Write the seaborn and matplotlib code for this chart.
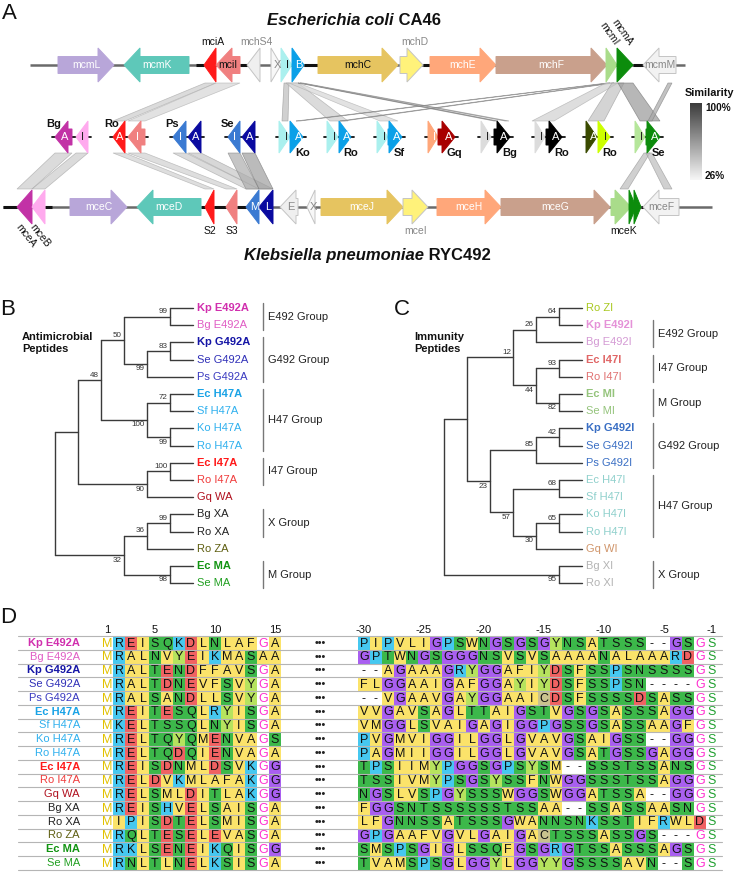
import numpy as np
import pandas as pd
import seaborn as sns
import matplotlib.pyplot as plt
import matplotlib.colors as mcolors
from matplotlib.patches import Polygon
from matplotlib.colors import ListedColormap, LinearSegmentedColormap

# ---------------- data ----------------
# panel A: gene clusters (track positions)
top_names = ['mcmL', 'mcmK', 'mciA', 'mciI', 'mchS4', 'X', 'I', 'B', 'mchC', 'mchD',
             'mchE', 'mchF', 'mcmI', 'mcmA', 'mcmM']
top_start = [58, 124, 204, 216, 247, 271, 281, 292, 318, 400, 430, 496, 606, 617, 643]
top_end = [114, 189, 216, 240, 260, 281, 292, 304, 398, 423, 496, 607, 617, 633, 676]
top_strand = [1, -1, -1, -1, -1, 1, 1, 1, 1, 1, 1, 1, 1, 1, -1]
top_colors = ['#b8a6d9', '#5ec8b9', '#ff1a1a', '#f08080', '#efefef', '#f7f7f7', '#aaf0ee',
              '#0aa0e8', '#e6c460', '#fff27a', '#ffa77a', '#c9a08c', '#a9dc8a', '#0c8c0c', '#f2f2f2']
top_label_mode = ['in', 'in', 'above', 'in', 'above', 'in', 'in', 'in', 'in', 'above',
                  'in', 'in', 'rot', 'rot', 'in']

bot_names = ['mceA', 'mceB', 'mceC', 'mceD', 'S2', 'S3', 'M', 'L', 'E', 'X', 'mceJ', 'mceI',
             'mceH', 'mceG', 'mceK', '', '', 'mceF']
bot_start = [17, 32, 70, 137, 205, 226, 246, 259, 280, 307, 321, 403, 437, 501, 611, 629, 634, 643]
bot_end = [32, 45, 127, 201, 214, 237, 259, 273, 298, 315, 403, 428, 501, 610, 631, 636, 641, 679]
bot_strand = [-1, -1, 1, -1, -1, -1, -1, -1, -1, -1, 1, 1, 1, 1, 1, 1, 1, -1]
bot_colors = ['#c232a6', '#ffaaee', '#b8a6d9', '#5ec8b9', '#ff1a1a', '#f08080', '#3a7ad2',
              '#0a0aa0', '#efefef', '#f7f7f7', '#e6c460', '#fff27a', '#ffa77a', '#c9a08c',
              '#a9dc8a', '#0c8c0c', '#0c8c0c', '#f2f2f2']
bot_label_mode = ['rot', 'rot', 'in', 'in', 'below', 'below', 'in', 'in', 'in', 'in', 'in',
                  'below', 'in', 'in', 'below', 'none', 'none', 'in']

mid_species = ['Bg', 'Ro', 'Ps', 'Se', 'Ko', 'Ro', 'Sf', 'Gq', 'Bg', 'Ro', 'Ro', 'Se']
mid_genes = [
    [(55, 72, -1, 'A'), (76, 88, -1, 'I')],
    [(113, 125, -1, 'A'), (128, 145, -1, 'I')],
    [(173, 186, -1, 'I'), (188, 201, -1, 'A')],
    [(228, 240, -1, 'I'), (242, 255, -1, 'A')],
    [(279, 290, 1, 'I'), (290, 303, 1, 'A')],
    [(327, 338, 1, 'I'), (339, 351, 1, 'A')],
    [(377, 388, 1, 'I'), (388, 402, 1, 'A')],
    [(428, 438, 1, 'I'), (438, 455, 1, 'A')],
    [(481, 491, 1, 'I'), (494, 510, 1, 'A')],
    [(535, 545, 1, 'I'), (546, 562, 1, 'A')],
    [(586, 597, 1, 'A'), (598, 610, 1, 'I')],
    [(635, 645, 1, 'I'), (646, 660, 1, 'A')],
]
mid_colors = [
    ['#c232a6', '#ffaaee'], ['#ff1a1a', '#f08080'], ['#3a7ad2', '#0a0aa0'],
    ['#3a7ad2', '#0a0aa0'], ['#aaf0ee', '#0aa0e8'], ['#aaf0ee', '#0aa0e8'],
    ['#aaf0ee', '#0aa0e8'], ['#ffa77a', '#a80000'], ['#dcdcdc', '#000000'],
    ['#dcdcdc', '#000000'], ['#3a4a00', '#ccff00'], ['#b5e69a', '#0c8c0c'],
]

# similarity links: (upper x0, upper x1, lower x0, lower x1, grey level)
upper_links = [
    (205, 216, 113, 125, 0.80), (216, 240, 128, 145, 0.84), (284, 289, 282, 288, 0.74),
    (286, 298, 330, 348, 0.80), (289, 298, 380, 398, 0.84), (298, 301, 494, 498, 0.62),
    (300, 303, 505, 509, 0.70), (607, 610, 296, 300, 0.66), (611, 614, 340, 344, 0.66),
    (606, 618, 532, 554, 0.82), (612, 624, 588, 604, 0.76), (618, 633, 640, 660, 0.60),
    (668, 672, 648, 652, 0.66),
]
lower_links = [
    (55, 72, 17, 32, 0.80), (76, 88, 32, 45, 0.80), (113, 125, 205, 214, 0.82),
    (128, 145, 226, 237, 0.82), (173, 186, 246, 259, 0.80), (188, 201, 259, 273, 0.78),
    (228, 240, 246, 259, 0.68), (242, 255, 259, 273, 0.62), (644, 650, 620, 628, 0.74),
    (646, 652, 664, 672, 0.74),
]
top_dark = [(196, 204), (240, 247), (304, 318), (423, 430), (602, 606), (633, 643)]
bot_dark = [(3, 17), (45, 52), (201, 205), (214, 226), (237, 246), (641, 643)]

# panel B / D: antimicrobial peptides
amp_names = ['Kp E492A', 'Bg E492A', 'Kp G492A', 'Se G492A', 'Ps G492A', 'Ec H47A', 'Sf H47A',
             'Ko H47A', 'Ro H47A', 'Ec I47A', 'Ro I47A', 'Gq WA', 'Bg XA', 'Ro XA', 'Ro ZA',
             'Ec MA', 'Se MA']
amp_colors = ['#d12fae', '#e05cc4', '#1515a6', '#3030b8', '#3a3ac0', '#1aa3e6', '#2fb0ee',
              '#2fb0ee', '#2fb0ee', '#ff1a1a', '#f03c3c', '#b0101e', '#222222', '#222222',
              '#5e5e10', '#129412', '#22a022']
amp_bold = ['Kp E492A', 'Kp G492A', 'Ec H47A', 'Ec I47A', 'Ec MA']
# tree: (child, child, bootstrap)
amp_tree = (
    (
        ((('Kp E492A', 'Bg E492A', 99), (('Kp G492A', 'Se G492A', 83), 'Ps G492A', 99), 50),
         (('Ec H47A', 'Sf H47A', 72), ('Ko H47A', 'Ro H47A', 99), 100), 48),
        (('Ec I47A', 'Ro I47A', 100), 'Gq WA', 90),
        None),
    ((('Bg XA', 'Ro XA', 99), 'Ro ZA', 36), ('Ec MA', 'Se MA', 98), 32),
    None)
amp_groups = [('E492 Group', 0, 1), ('G492 Group', 2, 4), ('H47 Group', 5, 8),
              ('I47 Group', 9, 10), ('X Group', 12, 13), ('M Group', 15, 16)]

# panel C: immunity peptides
imm_names = ['Ro ZI', 'Kp E492I', 'Bg E492I', 'Ec I47I', 'Ro I47I', 'Ec MI', 'Se MI',
             'Kp G492I', 'Se G492I', 'Ps G492I', 'Ec H47I', 'Sf H47I', 'Ko H47I', 'Ro H47I',
             'Gq WI', 'Bg XI', 'Ro XI']
imm_colors = ['#a8c81e', '#e592d8', '#d49ad4', '#e06666', '#e07070', '#95c47c', '#95c47c',
              '#3a6fc4', '#3a6fc4', '#3a6fc4', '#8fd0cc', '#8fd0cc', '#8fd0cc', '#8fd0cc',
              '#d0956a', '#b4b4b4', '#b4b4b4']
imm_bold = ['Kp E492I', 'Ec I47I', 'Ec MI', 'Kp G492I']
imm_tree = (
    (
        ((('Ro ZI', 'Kp E492I', 64), 'Bg E492I', 26),
         (('Ec I47I', 'Ro I47I', 93), ('Ec MI', 'Se MI', 82), 44), 12),
        ((('Kp G492I', 'Se G492I', 42), 'Ps G492I', 85),
         (('Ec H47I', 'Sf H47I', 68), (('Ko H47I', 'Ro H47I', 65), 'Gq WI', 30), 57), 23),
        None),
    ('Bg XI', 'Ro XI', 95),
    None)
imm_groups = [('E492 Group', 1, 2), ('I47 Group', 3, 4), ('M Group', 5, 6),
              ('G492 Group', 7, 9), ('H47 Group', 10, 13), ('X Group', 15, 16)]

# panel D: alignment (N-terminal 1-15, C-terminal -30..-1)
n_term = ['MREISQKDLNLAFGA', 'MRALNVYEIKMASAA', 'MRALTENDFFAVSGA', 'MRALTDNEVFSVYGA',
          'MRALSANDLLSVYGA', 'MREITESQLRYISGA', 'MKELTSSQLNYISGA', 'MRELTQYQMENVAGS',
          'MRELTQDQIENVAGA', 'MREISDNMLDSVKGG', 'MRELDVKMLAFAKGG', 'MRELSMLDITLAKGG',
          'MREISHVELSAISGA', 'MIPISDTELSMISGA', 'MRQLTESELEVASGA', 'MRKLSENEIKQISGG',
          'MRNLTLNELKSISGA']
c_term = ['PIPVLIGPSWNGSGSGYNSATSSS--GSGS', 'GPTWNGSGGGNSVSVSAAAANALAAARDGS',
          '--AGAAAGRYGGAFIYDSFSSPSNSSSSGS', 'FLGGAAIGAFGGAYIYDSFSSPSN----GS',
          '--VGAAVGAYGGAAICDSFSSSSDSASSGS', 'VVGAVSAGLTTAIGSTVGSGSASSSAGGGS',
          'VMGGLSVAIGAGIGGPGSSGSASSAAGFGS', 'PVGMVIGGILGGLGVAVGSAIGSS--GGGS',
          'PAGMIIGGILGGLGVAVGSATGSSGAGGGS', 'TPSIIMYPGGSGPSYSM--SSSTSSANSGS',
          'TSSIVMYPSGSYSSFNWGGSSSTSSAGGGS', 'NGSLVSPGYSSSWGGSWGGATSSA--GGGS',
          'FGGSNTSSSSSSTSSAA--SSASSAASNGS', 'LFGNNSSATSSSGWANNSNKSSTIFRWLDS',
          'GPGAAFVGVLGAIGACTSSSASSGS---GS', 'SMSPSGIGLSSQFGSGRGTSSASSSAGSGS',
          'TVAMSPSGLGGYLGGYYGSSSSAVN--SGS']
n_ticks = [1, 5, 10, 15]
c_ticks = [-30, -25, -20, -15, -10, -5, -1]

# residue colour classes
res_groups = ['-', 'AILVMFW', 'STNQ', 'DE', 'KRHP', 'G', 'Y', 'C']
cell_colors = ['#ffffff', '#fbe36a', '#3cb84a', '#f06262', '#46c8f0', '#a95ff0', '#b6e35e', '#c9c28e']
text_only_colors = {'M': '#e2c200', 'G': '#ff30d0', 'S': '#20a030'}

# ---------------- style ----------------
sns.set_theme(style='white')
plt.rcParams['font.family'] = ['Liberation Sans', 'DejaVu Sans']

W, H = 735, 874
fig = plt.figure(figsize=(W / 100, H / 100), dpi=100)


def px_axes(x0, y0, x1, y1):
    return fig.add_axes([x0 / W, 1 - y1 / H, (x1 - x0) / W, (y1 - y0) / H])


row_y0, row_h = 636.1, 13.75
col_w = 12.0
axL = px_axes(101, row_y0, 101 + 15 * col_w, row_y0 + 17 * row_h)
axR = px_axes(358, row_y0, 358 + 30 * col_w, row_y0 + 17 * row_h)

ax = fig.add_axes([0, 0, 1, 1])
ax.axis('off')
ax.set_zorder(5)


def lum(c):
    r, g, b = mcolors.to_rgb(c)
    return 0.299 * r + 0.587 * g + 0.114 * b


def gene(x0, x1, y, strand, color, hh, bh, head):
    hl = min(head, x1 - x0)
    if strand > 0:
        xb = x1 - hl
        tip = (x1, y)
        back = x0
    else:
        xb = x0 + hl
        tip = (x0, y)
        back = x1
    if hl >= x1 - x0 - 0.5:
        pts = [(xb, y - hh), tip, (xb, y + hh)]
    else:
        pts = [(back, y - bh), (xb, y - bh), (xb, y - hh), tip, (xb, y + hh), (xb, y + bh), (back, y + bh)]
    ec = '#c4c4c4' if lum(color) > 0.9 else color
    ax.add_patch(Polygon(pts, closed=True, fc=color, ec=ec, lw=0.7, zorder=4))


def link(a0, a1, b0, b1, ya, yb, g):
    ax.add_patch(Polygon([(a0, ya), (a1, ya), (b1, yb), (b0, yb)], closed=True,
                         fc=str(g), ec=str(g - 0.15), lw=0.5, alpha=0.7, zorder=2))


# ---------------- panel A ----------------
y_top, y_mid, y_bot = 65, 137, 207
hh_big, bh_big = 17, 8.5

ax.plot([30, 685], [y_top, y_top], color='#6a6a6a', lw=1.8, zorder=3, solid_capstyle='butt')
ax.plot([3, 712], [y_bot, y_bot], color='#6a6a6a', lw=1.8, zorder=3, solid_capstyle='butt')
for a, b in top_dark:
    ax.plot([a, b], [y_top, y_top], color='#111111', lw=2.2, zorder=3, solid_capstyle='butt')
for a, b in bot_dark:
    ax.plot([a, b], [y_bot, y_bot], color='#111111', lw=2.2, zorder=3, solid_capstyle='butt')

for a0, a1, b0, b1, g in upper_links:
    link(a0, a1, b0, b1, y_top + hh_big + 1, y_mid - 16, g)
for a0, a1, b0, b1, g in lower_links:
    link(a0, a1, b0, b1, y_mid + 16, y_bot - hh_big - 1, g)

for name, s, e, st, c, mode in zip(top_names, top_start, top_end, top_strand, top_colors, top_label_mode):
    gene(s, e, y_top, st, c, hh_big, bh_big, 16)
    light = lum(c) > 0.9
    if mode == 'in':
        tc = '#888888' if light else ('#111111' if lum(c) > 0.75 or name == 'mciI' else 'white')
        ax.text((s + e) / 2 + (1 if len(name) == 1 else 0), y_top, name, ha='center', va='center',
                fontsize=7.5 if len(name) > 1 else 8, color=tc, zorder=6)
    elif mode == 'above':
        ax.text((s + e) / 2 + 3, y_top - 23, name, ha='center', va='center', fontsize=7.5,
                color='#888888' if name != 'mciA' else '#111111', zorder=6)
    elif mode == 'rot':
        ax.text((s + e) / 2 + 1, y_top - 18, name, ha='right', va='bottom', rotation=-55,
                rotation_mode='anchor', fontsize=7.5, color='#111111', zorder=6)

for name, s, e, st, c, mode in zip(bot_names, bot_start, bot_end, bot_strand, bot_colors, bot_label_mode):
    gene(s, e, y_bot, st, c, hh_big, bh_big, 16)
    light = lum(c) > 0.9
    if mode == 'in':
        tc = '#888888' if light else 'white'
        ax.text((s + e) / 2 + (2 if len(name) == 1 else 0), y_bot, name, ha='center', va='center',
                fontsize=7.5 if len(name) > 1 else 8, color=tc, zorder=6)
    elif mode == 'below':
        ax.text((s + e) / 2 + (3 if name == 'mceK' else 0), y_bot + 24, name, ha='center', va='center',
                fontsize=7.5, color='#888888' if name == 'mceI' else '#111111', zorder=6)
    elif mode == 'rot':
        ax.text((s + e) / 2 - 3, y_bot + 15, name, ha='left', va='top', rotation=-52,
                rotation_mode='anchor', fontsize=7.5, color='#111111', zorder=6)

for sp, genes, cols in zip(mid_species, mid_genes, mid_colors):
    x_lo = min(g[0] for g in genes)
    x_hi = max(g[1] for g in genes)
    ax.plot([x_lo - 3, x_hi + 3], [y_mid, y_mid], color='#111111', lw=1.3, zorder=3)
    for (s, e, st, letter), c in zip(genes, cols):
        gene(s, e, y_mid, st, c, 16, 8, 13)
        tc = '#222222' if lum(c) > 0.78 else 'white'
        ax.text((s + e) / 2 + (2 if st > 0 else 1), y_mid, letter, ha='center', va='center',
                fontsize=8, color=tc, zorder=6)
    if genes[0][2] < 0:
        ax.text(x_lo + 6, y_mid - 13, sp, ha='right', va='center', fontsize=8,
                fontweight='bold', color='#111111', zorder=6)
    else:
        ax.text(x_hi - 8, y_mid + 16, sp, ha='left', va='center', fontsize=8,
                fontweight='bold', color='#111111', zorder=6)

ax.text(394, 25, 'Escherichia coli', ha='right', va='baseline', fontsize=12,
        fontweight='bold', fontstyle='italic', color='#111111')
ax.text(394, 25, ' CA46', ha='left', va='baseline', fontsize=12, fontweight='bold', color='#111111')
ax.text(424, 260, 'Klebsiella pneumoniae', ha='right', va='baseline', fontsize=12,
        fontweight='bold', fontstyle='italic', color='#111111')
ax.text(424, 260, ' RYC492', ha='left', va='baseline', fontsize=12, fontweight='bold', color='#111111')

grad = np.linspace(0, 1, 100)[:, None]
ax.imshow(grad, extent=(690, 702, 180, 103), aspect='auto', zorder=3,
          cmap=LinearSegmentedColormap.from_list('sim', ['#3c3c3c', '#f6f6f6']))
ax.text(709, 93, 'Similarity', ha='center', va='center', fontsize=7.8, fontweight='bold', color='#111111')
ax.text(705, 108, '100%', ha='left', va='center', fontsize=7.2, fontweight='bold', color='#111111')
ax.text(705, 176, '26%', ha='left', va='center', fontsize=7.2, fontweight='bold', color='#111111')

# ---------------- panels B and C ----------------


def draw_tree(tree, tip_x, y0, dy, step, names, colors, bold, groups, bx):
    order = []

    def walk(node, is_top):
        if isinstance(node, str):
            i = len(order)
            order.append(node)
            return 0, y0 + i * dy
        a, b, bs = node
        h_a, y_a = walk(a, True)
        h_b, y_b = walk(b, False)
        h = max(h_a, h_b) + 1
        x = tip_x - step * h
        for hc, yc in ((h_a, y_a), (h_b, y_b)):
            ax.plot([x, tip_x - step * hc], [yc, yc], color='#3a3a3a', lw=1.0, zorder=4)
        ax.plot([x, x], [y_a, y_b], color='#3a3a3a', lw=1.0, zorder=4)
        y = (y_a + y_b) / 2
        if bs is not None:
            ax.text(x - 2, y - 1.5 if is_top else y + 1.5, str(bs), ha='right',
                    va='bottom' if is_top else 'top', fontsize=5.8, color='#333333', zorder=6)
        return h, y

    walk(tree, True)
    for i, nm in enumerate(order):
        c = colors[names.index(nm)]
        ax.text(tip_x + 4, y0 + i * dy, nm, ha='left', va='center', fontsize=8, color=c,
                fontweight='bold' if nm in bold else 'normal', zorder=6)
    for gname, i0, i1 in groups:
        ax.plot([bx, bx], [y0 + i0 * dy - 5, y0 + i1 * dy + 5], color='#777777', lw=1.0)
        ax.text(bx + 5, y0 + (i0 + i1) / 2 * dy, gname, ha='left', va='center',
                fontsize=8, color='#222222')


leaf_y0, leaf_dy = 308, 17.2
draw_tree(amp_tree, 193, leaf_y0, leaf_dy, 23, amp_names, amp_colors, amp_bold, amp_groups, 263)
draw_tree(imm_tree, 582, leaf_y0, leaf_dy, 23, imm_names, imm_colors, imm_bold, imm_groups, 653)
ax.text(22, 343, 'Antimicrobial\nPeptides', ha='left', va='center', fontsize=8,
        fontweight='bold', color='#111111', linespacing=1.3)
ax.text(414, 343, 'Immunity\nPeptides', ha='left', va='center', fontsize=8,
        fontweight='bold', color='#111111', linespacing=1.3)

# panel letters
for letter, x, y in (('A', 2, 19), ('B', 0, 315), ('C', 394, 315), ('D', 0, 623)):
    ax.text(x, y, letter, ha='left', va='baseline', fontsize=16, color='#111111')

# ---------------- panel D ----------------
res_code = {r: k for k, grp in enumerate(res_groups) for r in grp}


def block_codes(seqs):
    arr = np.array([list(s) for s in seqs])
    codes = np.vectorize(res_code.get)(arr).astype(float)
    text_col = np.full(arr.shape, '#111111', dtype=object)
    for j in range(arr.shape[1]):
        vals, cnt = np.unique(arr[:, j], return_counts=True)
        top = vals[cnt.argmax()]
        if cnt.max() / arr.shape[0] >= 0.9 and top in text_only_colors:
            hit = arr[:, j] == top
            codes[hit, j] = 0
            text_col[hit, j] = text_only_colors[top]
    return arr, codes, text_col


cmap = ListedColormap(cell_colors)
for axh, seqs in ((axL, n_term), (axR, c_term)):
    arr, codes, text_col = block_codes(seqs)
    sns.heatmap(pd.DataFrame(codes), ax=axh, cmap=cmap, vmin=-0.5, vmax=len(cell_colors) - 0.5,
                cbar=False, xticklabels=False, yticklabels=False, linewidths=0)
    for i in range(arr.shape[0]):
        for j in range(arr.shape[1]):
            axh.text(j + 0.5, i + 0.55, arr[i, j], ha='center', va='center', fontsize=9,
                     color=text_col[i, j])
    axh.set_xlabel('')
    axh.set_ylabel('')

for k in range(len(amp_names) + 1):
    y = row_y0 + k * row_h
    ax.plot([18, 722], [y, y], color='#b5b5b5', lw=0.8, zorder=7)
for i, nm in enumerate(amp_names):
    y = row_y0 + (i + 0.5) * row_h
    ax.text(80, y, nm, ha='right', va='center', fontsize=8, color=amp_colors[i],
            fontweight='bold' if nm in amp_bold else 'normal')
    ax.text(320, y, '\u2022\u2022\u2022', ha='center', va='center', fontsize=7.5,
            fontweight='bold', color='#222222')
for t in n_ticks:
    ax.text(101 + (t - 0.5) * col_w, 630, str(t), ha='center', va='center', fontsize=8, color='#111111')
for t in c_ticks:
    ax.text(358 + (t + 30.5) * col_w, 630, str(t), ha='center', va='center', fontsize=8, color='#111111')

ax.set_xlim(0, W)
ax.set_ylim(H, 0)
fig.savefig('out.png', dpi=100)
